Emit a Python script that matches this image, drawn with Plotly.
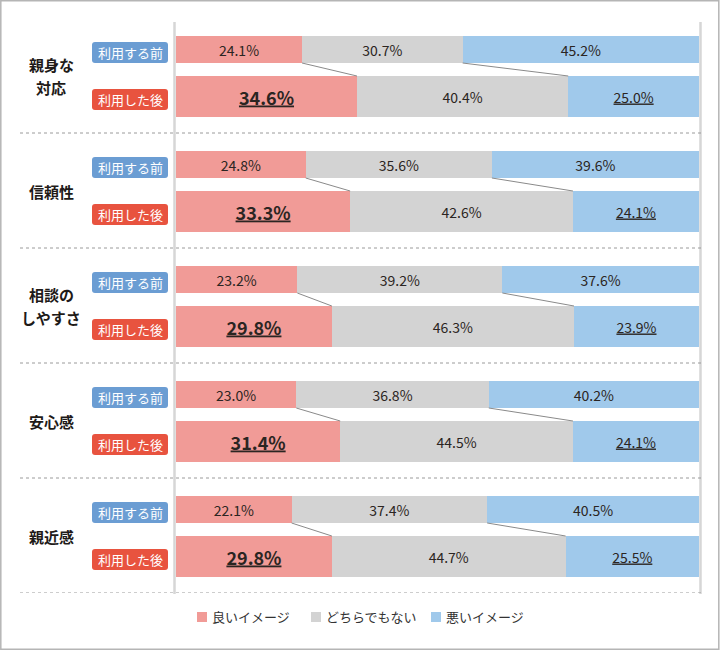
import plotly.graph_objects as go

categories = [["親身な", "対応"], ["信頼性"], ["相談の", "しやすさ"], ["安心感"], ["親近感"]]
series_names = ["良いイメージ", "どちらでもない", "悪いイメージ"]
before_good = [24.1, 24.8, 23.2, 23.0, 22.1]
before_neutral = [30.7, 35.6, 39.2, 36.8, 37.4]
before_bad = [45.2, 39.6, 37.6, 40.2, 40.5]
after_good = [34.6, 33.3, 29.8, 31.4, 29.8]
after_neutral = [40.4, 42.6, 46.3, 44.5, 44.7]
after_bad = [25.0, 24.1, 23.9, 24.1, 25.5]
row_labels = ["利用する前", "利用した後"]

colors = ["#f19b97", "#d3d3d3", "#a0c9eb"]
pill_colors = ["#6b9dd3", "#e8533f"]
txt_color = "#2b2522"
FONT = "Noto Sans CJK JP"

# layout geometry (plot area in px)
L, R, T, B = 176, 21, 18, 59
W, H = 720, 652
pw = W - L - R
ph = H - T - B
n = len(categories)
unit = ph / n  # px per group

off_b, off_a = -26 / unit, 21 / unit
wid_b, wid_a = 27 / unit, 41 / unit

yb = [i + off_b for i in range(n)]
ya = [i + off_a for i in range(n)]

before = [before_good, before_neutral, before_bad]
after = [after_good, after_neutral, after_bad]

fig = go.Figure()

for k in range(3):
    xs = before[k] + after[k]
    ys = yb + ya
    widths = [wid_b] * n + [wid_a] * n
    texts, sizes = [], []
    for v in before[k]:
        texts.append(f"{v:.1f}%")
        sizes.append(14)
    for v in after[k]:
        if k == 0:
            texts.append(f"<b><u>{v:.1f}%</u></b>")
            sizes.append(18)
        elif k == 2:
            texts.append(f"<u>{v:.1f}%</u>")
            sizes.append(14)
        else:
            texts.append(f"{v:.1f}%")
            sizes.append(14)
    fig.add_trace(go.Bar(
        x=xs, y=ys, width=widths, orientation="h",
        name=series_names[k], marker=dict(color=colors[k], line=dict(width=0)),
        text=texts, textposition="inside", insidetextanchor="middle", textangle=0,
        textfont=dict(size=sizes, color=txt_color, family=FONT),
        hoverinfo="skip", showlegend=False,
    ))

# connector lines between before and after boundaries
for i in range(n):
    cb = before_good[i]
    ca = after_good[i]
    for k in range(2):
        if k == 1:
            cb += before_neutral[i]
            ca += after_neutral[i]
        fig.add_trace(go.Scatter(
            x=[cb, ca], y=[yb[i] + wid_b / 2, ya[i] - wid_a / 2],
            mode="lines", line=dict(color="#8a8a8a", width=1),
            showlegend=False, hoverinfo="skip",
        ))

shapes = []
annotations = []


def px2paper_x(px):
    return (px - L) / pw


def px2paper_y(py):
    return 1 - (py - T) / ph


# dotted separators
for i in range(n):
    shapes.append(dict(type="line", xref="paper", yref="y",
                       x0=px2paper_x(20), x1=px2paper_x(703), y0=i + 0.5, y1=i + 0.5,
                       line=dict(color="#9a9a9a", width=1, dash="dot")))

# vertical boundary lines
for xv in [px2paper_x(174.5), px2paper_x(700.5)]:
    shapes.append(dict(type="line", xref="paper", yref="paper",
                       x0=xv, x1=xv, y0=px2paper_y(594), y1=px2paper_y(22),
                       line=dict(color="#d6d6d6", width=2.5), layer="below"))

# outer frame
shapes.append(dict(type="rect", xref="paper", yref="paper",
                   x0=px2paper_x(0.8), x1=px2paper_x(718.8),
                   y0=px2paper_y(649.3), y1=px2paper_y(0.8),
                   line=dict(color="#b5b5b5", width=1.5), layer="below"))

# pills
rx = 3 / pw
ry = 3 / unit
x0p, x1p = px2paper_x(92), px2paper_x(168)
line_gap = 22.5 / unit
for i in range(n):
    for j, yc in enumerate([yb[i], ya[i]]):
        yc = yc + 3 / unit
        y0, y1 = yc - 10.5 / unit, yc + 10.5 / unit
        path = (f"M {x0p+rx},{y0} L {x1p-rx},{y0} Q {x1p},{y0} {x1p},{y0+ry} "
                f"L {x1p},{y1-ry} Q {x1p},{y1} {x1p-rx},{y1} L {x0p+rx},{y1} "
                f"Q {x0p},{y1} {x0p},{y1-ry} L {x0p},{y0+ry} Q {x0p},{y0} {x0p+rx},{y0} Z")
        shapes.append(dict(type="path", xref="paper", yref="y", path=path,
                           fillcolor=pill_colors[j], line=dict(width=0)))
        annotations.append(dict(xref="paper", yref="y", x=(x0p + x1p) / 2, y=yc,
                                text=row_labels[j], showarrow=False,
                                font=dict(size=13, color="white", family=FONT),
                                xanchor="center", yanchor="middle"))
    lines = categories[i]
    cy = (yb[i] + ya[i]) / 2 + 3 / unit
    for m, part in enumerate(lines):
        ly = cy + (m - (len(lines) - 1) / 2) * line_gap
        annotations.append(dict(xref="paper", yref="y", x=px2paper_x(51), y=ly,
                                text=f"<b>{part}</b>", showarrow=False,
                                font=dict(size=15, color="#1e1a18", family=FONT),
                                xanchor="center", yanchor="middle", align="center",
                                borderpad=0))

# legend (square + label)
leg_x = [197, 311, 431]
leg_y = 617
for k in range(3):
    shapes.append(dict(type="rect", xref="paper", yref="paper",
                       x0=px2paper_x(leg_x[k]), x1=px2paper_x(leg_x[k] + 10),
                       y0=px2paper_y(leg_y + 5), y1=px2paper_y(leg_y - 5),
                       fillcolor=colors[k], line=dict(width=0)))
    annotations.append(dict(xref="paper", yref="paper",
                            x=px2paper_x(leg_x[k] + 13), y=px2paper_y(leg_y),
                            text=series_names[k], showarrow=False,
                            font=dict(size=13, color="#333333", family=FONT),
                            xanchor="left", yanchor="middle"))

fig.update_layout(
    width=W, height=H,
    margin=dict(l=L, r=R, t=T, b=B),
    barmode="stack",
    plot_bgcolor="white", paper_bgcolor="white",
    xaxis=dict(range=[0, 100], visible=False, fixedrange=True),
    yaxis=dict(range=[n - 0.5, -0.5], visible=False, fixedrange=True),
    shapes=shapes, annotations=annotations,
    showlegend=False,
    font=dict(family=FONT),
)

fig.write_html("out.html", config={"displayModeBar": False},
               post_script="document.body.style.margin='0';")
